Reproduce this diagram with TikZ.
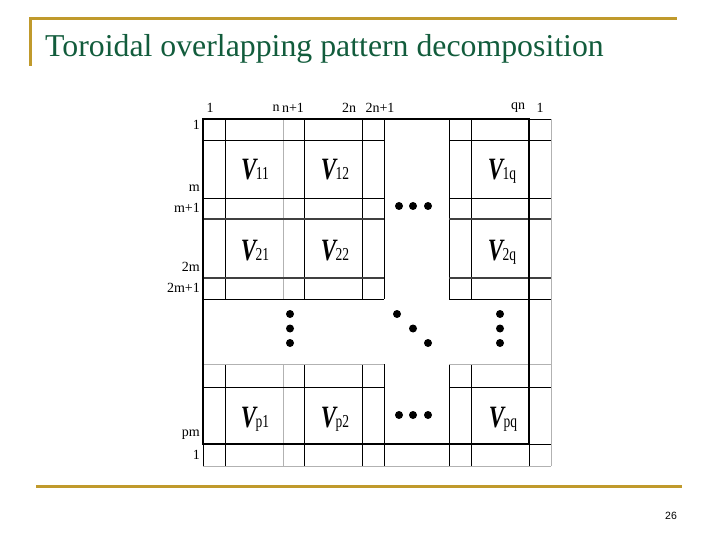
\documentclass[tikz,border=0pt]{standalone}
\usepackage{fontspec}
\setmainfont{Liberation Serif}
\newfontfamily\pagefont{Liberation Sans}
\usepackage{graphicx}

\definecolor{titlegreen}{RGB}{18,92,60}
\definecolor{rulegold}{RGB}{192,154,44}

\tikzset{
  border/.style={black, line width=2.2pt},
  cell/.style={black, line width=0.9pt},
  softcell/.style={gray!60, line width=0.9pt},
  seam/.style={black!75, line width=1.4pt},
  idx/.style={font=\fontsize{14}{14}\selectfont, inner sep=0pt},
  blocklab/.style={anchor=base, inner sep=0pt},
}
\newcommand{\blk}[1]{\scalebox{1}[1.35]{\fontsize{23}{23}\selectfont\textbf{\textit{V}}\kern-2pt{\fontsize{13.5}{13.5}\selectfont #1}}}

\begin{document}
\begin{tikzpicture}[x=1pt,y=-1pt]
\useasboundingbox (0,0) rectangle (720,540);

% slide frame
\draw[rulegold, line width=3pt] (30,66) -- (30,18.3) -- (677,18.3);
\draw[rulegold, line width=3pt] (36,486) -- (682,486);
\node (title) [anchor=base west, inner sep=0pt, text=titlegreen, font=\fontsize{31.8}{36}\selectfont] at (45,56.5) {Toroidal overlapping pattern decomposition};
\node (page) [inner sep=0pt, font=\pagefont\fontsize{10.5}{12}\selectfont] at (671,516) {26};

% grid lines
\foreach \x in {225,304,362,384,449,471} {
    \draw[cell] (\x,119) -- (\x,299);
    \draw[cell] (\x,364) -- (\x,466);
}
\draw[softcell] (283,119) -- (283,299);
\draw[softcell] (283,364) -- (283,466);
\foreach \y/\s in {140/cell,198/cell,219/seam,278/seam,299/cell,364/softcell,387/cell} {
    \draw[\s] (203,\y) -- (384,\y);
    \draw[\s] (449,\y) -- (551,\y);
}
\draw[softcell] (551,119) -- (551,466);
\draw[softcell] (203,466) -- (551,466);
\draw[cell] (203,444) -- (203,466);
\draw[cell] (529,444) -- (529,466);
\draw[cell] (529,119) -- (551,119);
\draw[cell] (529,444) -- (551,444);
\draw[border] (203,119) rectangle (529,444);

% dots
\foreach \x/\y in {399/206,413/206,428/206,399/415,413/415,428/415,
                   290/314,290/328.5,290/343,500/314,500/328.5,500/343,
                   397/314,413/328.5,428/343} {
    \fill[black] (\x,\y) circle (4pt);
}

% column indices
\node (t1)   [idx] at (210,108) {1};
\node (tn)   [idx] at (276,108) {n};
\node (tn1)  [idx] at (293,108) {n+1};
\node (t2n)  [idx] at (349,108) {2n};
\node (t2n1) [idx] at (380,108) {2n+1};
\node (tqn)  [idx] at (518,108) {qn};
\node (tone) [idx] at (540,108) {1};

% row indices
\node (l1)   [idx, anchor=east] at (200,125) {1};
\node (lm)   [idx, anchor=east] at (200,188) {m};
\node (lm1)  [idx, anchor=east] at (200,208) {m+1};
\node (l2m)  [idx, anchor=east] at (200,267) {2m};
\node (l2m1) [idx, anchor=east] at (200,288) {2m+1};
\node (lpm)  [idx, anchor=east] at (200,435) {pm};
\node (lone) [idx, anchor=east] at (200,455) {1};

% blocks
\node (v11) [blocklab] at (255,180) {\blk{11}};
\node (v12) [blocklab] at (335,180) {\blk{12}};
\node (v1q) [blocklab] at (502,180) {\blk{1q}};
\node (v21) [blocklab] at (255,260) {\blk{21}};
\node (v22) [blocklab] at (335,260) {\blk{22}};
\node (v2q) [blocklab] at (502,260) {\blk{2q}};
\node (vp1) [blocklab] at (255,427) {\blk{p1}};
\node (vp2) [blocklab] at (335,427) {\blk{p2}};
\node (vpq) [blocklab] at (503,427) {\blk{pq}};

\end{tikzpicture}
\end{document}
